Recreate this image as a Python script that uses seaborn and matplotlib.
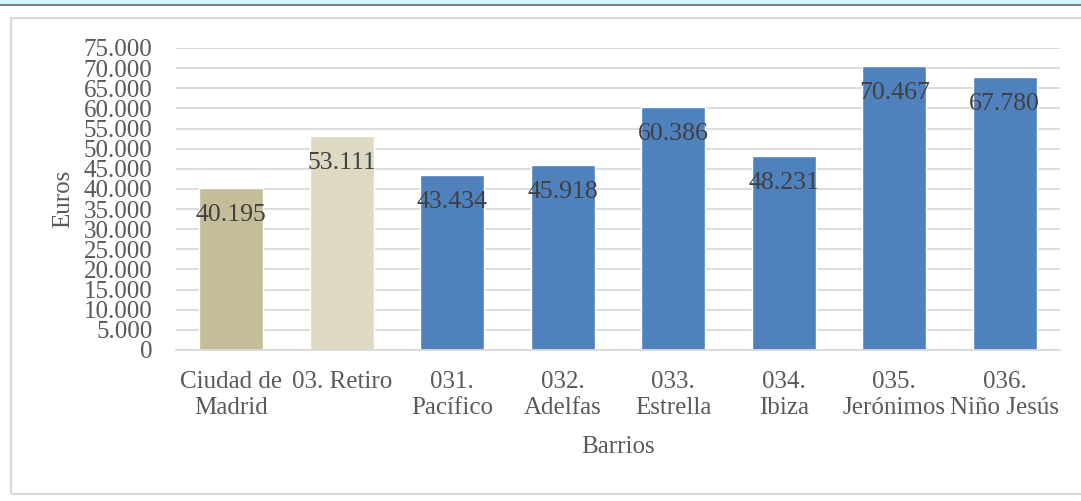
import pandas as pd
import matplotlib
matplotlib.use("Agg")
import matplotlib.pyplot as plt
import seaborn as sns
from matplotlib.patches import Rectangle
from matplotlib.ticker import FuncFormatter

# data
barrios = ["Ciudad de\nMadrid", "03. Retiro", "031.\nPacífico", "032.\nAdelfas",
           "033.\nEstrella", "034.\nIbiza", "035.\nJerónimos", "036.\nNiño Jesús"]
euros = [40195, 53111, 43434, 45918, 60386, 48231, 70467, 67780]
colores = ["#C4BD97", "#DDD9C3", "#4F81BD", "#4F81BD",
           "#4F81BD", "#4F81BD", "#4F81BD", "#4F81BD"]

df = pd.DataFrame({"barrio": barrios, "euros": euros})

sns.set_style("white")
plt.rcParams["font.family"] = ["Liberation Serif", "DejaVu Serif"]

W, H = 1081, 501
fig = plt.figure(figsize=(W / 100, H / 100), dpi=100)

# frame and top strip like the original screenshot
fig.patches.append(Rectangle((0, (H - 4) / H), 1, 4 / H, transform=fig.transFigure,
                             facecolor="#CCF6FB", edgecolor="none", zorder=0))
fig.patches.append(Rectangle((0, (H - 6) / H), 1, 2 / H, transform=fig.transFigure,
                             facecolor="#808080", edgecolor="none", zorder=0))
fig.patches.append(Rectangle((11 / W, (H - 494) / H), 1.2, (494 - 18) / H,
                             transform=fig.transFigure, facecolor="none",
                             edgecolor="#D9D9D9", linewidth=1.5, zorder=0))

ax = fig.add_axes([176 / W, (H - 350) / H, (1060 - 176) / W, (350 - 48) / H])
sns.barplot(data=df, x="barrio", y="euros", hue="barrio", palette=colores,
            width=0.58, dodge=False, legend=False, saturation=1, ax=ax)

ax.set_ylim(0, 75000)
ax.set_xlim(-0.5, len(barrios) - 0.5)
ax.set_yticks(range(0, 75001, 5000))
ax.yaxis.set_major_formatter(FuncFormatter(lambda v, p: f"{int(v):,}".replace(",", ".")))
ax.grid(axis="y", color="#D9D9D9", linewidth=1.3)
ax.set_axisbelow(True)
for s in ["top", "right", "left"]:
    ax.spines[s].set_visible(False)
ax.spines["bottom"].set_color("#D9D9D9")
ax.spines["bottom"].set_linewidth(1.3)
ax.tick_params(axis="both", length=0, labelsize=18, labelcolor="#595959")
ax.tick_params(axis="x", pad=15)
ax.tick_params(axis="y", pad=17)
for lbl in ax.get_xticklabels():
    lbl.set_linespacing(1.25)

ax.set_xlabel("Barrios", fontsize=18, color="#595959", labelpad=12)
ax.set_ylabel("Euros", fontsize=18, color="#595959", labelpad=7)

# value labels inside the top of each bar
for i, v in enumerate(euros):
    ax.annotate(f"{v:,}".replace(",", "."), (i, v), xytext=(0, -27),
                textcoords="offset pixels", ha="center", va="center",
                fontsize=18.5, color="#404040")

fig.savefig("out.png", dpi=100)
